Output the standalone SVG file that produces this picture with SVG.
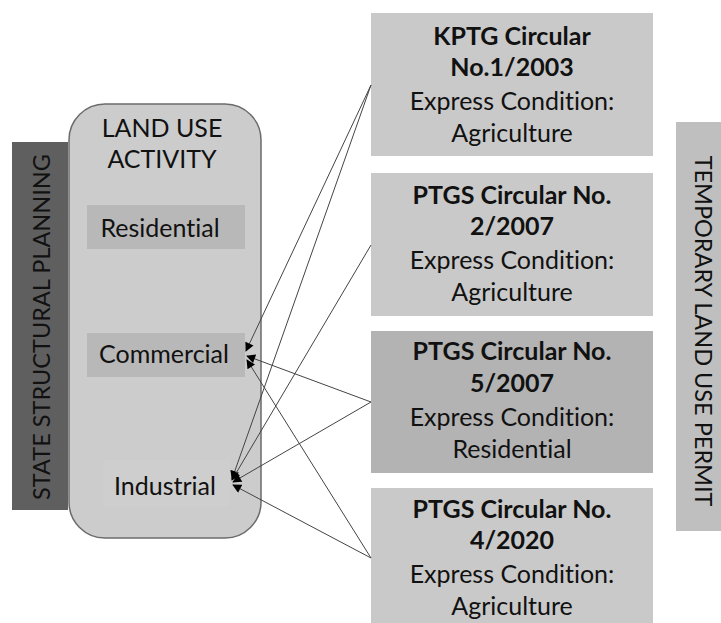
<svg xmlns="http://www.w3.org/2000/svg" width="721" height="623" viewBox="0 0 721 623">
<style>
text{font-family:Lato,"Liberation Sans",sans-serif;font-size:25px;fill:#111;font-variant-ligatures:none;}
.b{font-weight:bold;}
.m{text-anchor:middle;}
.r{font-size:23.5px;}
.box{fill:#c9c9c9;}
.dark{fill:#b3b3b3;}
.conn line{stroke:#444;stroke-width:1;marker-end:url(#ah);}
</style>
<defs>
<marker id="ah" markerUnits="userSpaceOnUse" viewBox="0 0 10 10" refX="9" refY="5" markerWidth="10" markerHeight="9" orient="auto">
<path d="M0,0 L10,5 L0,10 z" fill="#000"/>
</marker>
</defs>
<rect width="721" height="623" fill="#fff"/>
<g id="state-planning">
<rect x="12" y="142" width="56" height="368" fill="#5f5f5f"/>
<text class="m r" transform="translate(50,327) rotate(-90)">STATE STRUCTURAL PLANNING</text>
</g>
<g id="land-use">
<rect x="69" y="104" width="192" height="434" rx="36" ry="36" fill="#cccccc" stroke="#6b6b6b" stroke-width="1.5"/>
<text class="m" x="162" y="137">LAND USE</text>
<text class="m" x="162" y="168">ACTIVITY</text>
</g>
<g id="residential">
<rect x="87" y="205" width="158" height="44" fill="#b8b8b8"/>
<text class="m" x="160" y="237">Residential</text>
</g>
<g id="commercial">
<rect x="87" y="333" width="158" height="44" fill="#b8b8b8"/>
<text class="m" x="164" y="363">Commercial</text>
</g>
<g id="industrial">
<rect x="103" y="460" width="127" height="47" fill="#cecece"/>
<text class="m" x="165" y="495">Industrial</text>
</g>
<g id="kptg-1-2003">
<rect class="box" x="371" y="13" width="282" height="143"/>
<text class="m b" x="512" y="45">KPTG Circular</text>
<text class="m b" x="512" y="76">No.1/2003</text>
<text class="m" x="512" y="110">Express Condition:</text>
<text class="m" x="512" y="142">Agriculture</text>
</g>
<g id="ptgs-2-2007">
<rect class="box" x="371" y="173" width="282" height="143"/>
<text class="m b" x="512" y="204">PTGS Circular No.</text>
<text class="m b" x="512" y="235">2/2007</text>
<text class="m" x="512" y="269">Express Condition:</text>
<text class="m" x="512" y="301">Agriculture</text>
</g>
<g id="ptgs-5-2007">
<rect class="dark" x="371" y="331" width="282" height="142"/>
<text class="m b" x="512" y="360">PTGS Circular No.</text>
<text class="m b" x="512" y="392">5/2007</text>
<text class="m" x="512" y="426">Express Condition:</text>
<text class="m" x="512" y="458">Residential</text>
</g>
<g id="ptgs-4-2020">
<rect class="box" x="371" y="488" width="282" height="135"/>
<text class="m b" x="512" y="518">PTGS Circular No.</text>
<text class="m b" x="512" y="549">4/2020</text>
<text class="m" x="512" y="583">Express Condition:</text>
<text class="m" x="512" y="615">Agriculture</text>
</g>
<g id="temporary-permit">
<rect x="676" y="122" width="45" height="409" fill="#bfbfbf"/>
<text class="m r" transform="translate(695,331) rotate(90)">TEMPORARY LAND USE PERMIT</text>
</g>
<g id="connectors" class="conn">
<line x1="371" y1="85" x2="246" y2="351"/>
<line x1="371" y1="85" x2="232" y2="479"/>
<line x1="371" y1="245" x2="232" y2="480"/>
<line x1="371" y1="402" x2="247" y2="356"/>
<line x1="371" y1="402" x2="233" y2="482"/>
<line x1="371" y1="558" x2="247" y2="360"/>
<line x1="371" y1="558" x2="233" y2="485"/>
</g>
</svg>
